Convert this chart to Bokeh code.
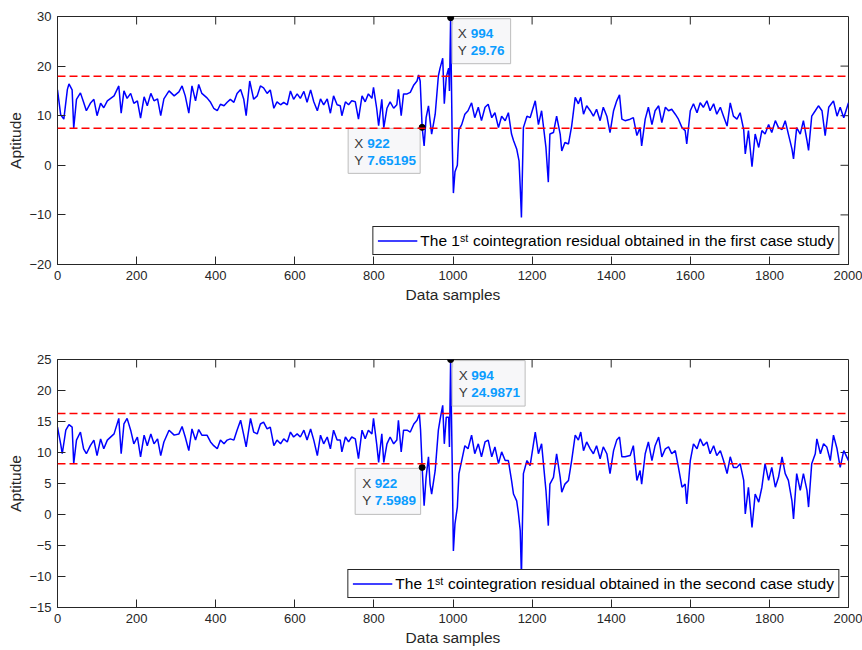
import math
from bokeh.plotting import figure
from bokeh.models import Range1d, Span, Legend, LegendItem
from bokeh.layouts import column
from bokeh.embed import file_html
from bokeh.resources import INLINE
from bokeh.core.properties import value

# ---------------- data ----------------
x1 = [0, 8, 16, 25, 29, 37, 41, 48, 58, 66, 73, 83, 92, 100, 109, 117, 126, 143, 155, 161,
      168, 176, 185, 193, 202, 210, 219, 227, 236, 244, 253, 261, 269, 282, 295, 307, 315, 323,
      332, 340, 349, 357, 365, 378, 387, 395, 404, 412, 421, 429, 437, 446, 454, 463, 471, 477,
      486, 496, 505, 513, 521, 530, 538, 547, 555, 564, 572, 581, 589, 597, 606, 614, 623, 631,
      640, 648, 657, 665, 673, 682, 690, 698, 707, 715, 719, 728, 736, 744, 753, 761, 770, 778,
      786, 795, 799, 807, 812, 820, 825, 833, 841, 850, 858, 862, 869, 875, 884, 892, 901, 909,
      913, 917, 922, 927, 932, 938, 942, 946, 955, 963, 967, 974, 978, 983, 989, 991, 994, 998,
      1001, 1005, 1011, 1015, 1022, 1030, 1038, 1047, 1055, 1064, 1072, 1081, 1089, 1098, 1106,
      1115, 1123, 1132, 1140, 1148, 1153, 1161, 1167, 1170, 1173, 1178, 1187, 1195, 1208, 1216,
      1224, 1235, 1241, 1245, 1254, 1262, 1271, 1275, 1283, 1292, 1300, 1309, 1317, 1323, 1330,
      1338, 1347, 1355, 1363, 1372, 1380, 1389, 1397, 1406, 1414, 1421, 1427, 1435, 1448, 1456,
      1465, 1473, 1477, 1486, 1494, 1503, 1511, 1520, 1528, 1537, 1545, 1553, 1562, 1570, 1579,
      1587, 1591, 1600, 1608, 1617, 1625, 1633, 1642, 1650, 1659, 1667, 1676, 1684, 1693, 1701,
      1709, 1718, 1726, 1735, 1739, 1747, 1756, 1764, 1773, 1781, 1789, 1798, 1806, 1815, 1823,
      1832, 1840, 1848, 1857, 1861, 1869, 1878, 1886, 1895, 1899, 1907, 1916, 1924, 1933, 1941,
      1950, 1962, 1971, 1979, 1988, 2000]
y1 = [15.2, 10.2, 9.3, 15.3, 16.4, 15.2, 7.5, 13.3, 14.6, 12.7, 11.0, 12.5, 13.3, 10.0, 12.5, 11.6,
      13.0, 14.0, 16.0, 10.5, 15.0, 13.5, 14.5, 12.5, 13.0, 9.5, 13.8, 12.0, 14.5, 13.0, 13.4, 10.0,
      13.4, 15.0, 14.0, 14.8, 16.0, 14.0, 10.5, 16.0, 13.0, 16.3, 14.5, 13.6, 12.7, 11.5, 11.0, 12.3,
      12.0, 12.7, 13.3, 12.7, 14.5, 15.3, 13.3, 10.0, 17.0, 13.3, 14.0, 16.0, 15.6, 14.5, 15.2, 11.5,
      12.8, 12.2, 12.7, 12.2, 15.0, 13.3, 14.4, 13.5, 14.9, 12.7, 15.2, 12.8, 11.0, 13.4, 12.2, 13.4,
      10.5, 14.0, 12.2, 12.0, 10.0, 12.8, 12.2, 13.0, 12.8, 9.3, 14.0, 12.8, 14.4, 13.5, 15.7, 11.5,
      8.0, 13.3, 7.6, 11.5, 12.8, 11.5, 12.2, 15.3, 10.0, 14.4, 14.4, 14.7, 16.2, 17.0, 18.2, 17.0,
      7.65195, 3.9, 9.6, 12.0, 9.0, 6.3, 10.3, 18.0, 19.5, 21.6, 12.4, 17.8, 19.6, 15.0, 29.76, 4.8,
      -5.6, -1.3, 0.0, 7.2, 8.2, 10.3, 11.0, 12.6, 9.6, 11.7, 9.0, 11.7, 12.3, 9.6, 10.6, 7.6, 9.9,
      9.0, 10.6, 6.3, 5.0, 3.3, 0.9, -4.4, -10.5, 7.6, 9.9, 9.6, 13.0, 8.2, 11.0, 3.6, -3.4, 6.3,
      6.6, 9.9, 6.3, 2.9, 4.6, 4.3, 7.9, 13.7, 12.4, 13.7, 10.3, 12.0, 11.0, 9.9, 11.3, 9.0, 11.7,
      9.9, 6.6, 11.0, 13.0, 14.2, 9.3, 9.0, 9.3, 9.6, 6.0, 7.6, 3.9, 9.3, 11.7, 8.2, 11.0, 12.0,
      8.6, 11.7, 11.0, 11.3, 10.3, 9.3, 7.6, 7.0, 4.3, 11.0, 12.4, 10.6, 12.6, 11.7, 13.0, 11.0,
      12.4, 10.3, 11.7, 9.9, 7.9, 12.6, 9.9, 9.3, 10.6, 7.2, 2.3, 7.0, -0.3, 6.3, 3.6, 7.0, 6.3,
      8.2, 6.6, 9.0, 7.6, 7.2, 9.0, 6.3, 3.3, 1.3, 7.6, 6.3, 9.0, 5.0, 3.0, 9.9, 11.0, 12.0, 11.0,
      6.0, 11.7, 13.0, 9.9, 11.7, 9.6, 12.6]

x2 = [0, 8, 12, 21, 29, 37, 41, 48, 58, 66, 73, 83, 92, 100, 109, 117, 126, 143, 155, 161,
      168, 176, 185, 193, 202, 210, 219, 227, 236, 244, 253, 261, 269, 282, 295, 307, 315, 323,
      332, 340, 349, 357, 365, 378, 387, 395, 404, 412, 421, 429, 437, 446, 454, 463, 471, 477,
      488, 496, 505, 513, 521, 530, 538, 547, 555, 564, 572, 581, 589, 597, 606, 614, 623, 631,
      640, 648, 657, 665, 673, 682, 690, 698, 707, 715, 719, 728, 736, 744, 753, 761, 770, 778,
      786, 795, 799, 807, 812, 820, 825, 833, 841, 850, 858, 862, 869, 875, 884, 892, 901, 909,
      915, 918, 922, 927, 932, 938, 942, 946, 955, 963, 967, 974, 978, 983, 989, 991, 994, 998,
      1001, 1005, 1011, 1015, 1022, 1030, 1038, 1047, 1055, 1064, 1072, 1081, 1089, 1098, 1106,
      1115, 1123, 1132, 1140, 1148, 1153, 1161, 1165, 1170, 1173, 1178, 1187, 1195, 1208, 1216,
      1224, 1235, 1241, 1245, 1254, 1262, 1271, 1275, 1283, 1292, 1300, 1309, 1317, 1323, 1330,
      1338, 1347, 1355, 1363, 1372, 1380, 1389, 1397, 1406, 1414, 1421, 1427, 1435, 1448, 1456,
      1465, 1473, 1477, 1486, 1494, 1503, 1511, 1520, 1528, 1537, 1545, 1553, 1562, 1570, 1579,
      1587, 1591, 1600, 1608, 1617, 1625, 1633, 1642, 1650, 1659, 1667, 1676, 1684, 1693, 1701,
      1709, 1718, 1726, 1735, 1739, 1747, 1756, 1764, 1773, 1781, 1789, 1798, 1806, 1815, 1823,
      1832, 1840, 1848, 1857, 1861, 1869, 1878, 1886, 1895, 1899, 1907, 1916, 1920, 1929, 1937,
      1945, 1954, 1962, 1971, 1979, 1988, 2000]
y2 = [14.1, 11.4, 9.8, 13.6, 14.5, 14.1, 8.2, 12.0, 13.3, 10.6, 9.8, 11.1, 12.0, 9.5, 12.2, 10.6,
      12.0, 13.0, 15.5, 9.8, 14.6, 15.5, 13.6, 11.4, 12.5, 9.3, 12.8, 11.1, 13.0, 11.4, 12.2, 9.5,
      11.7, 13.6, 12.8, 13.0, 14.2, 12.5, 10.3, 13.8, 12.0, 13.7, 12.8, 12.8, 11.7, 11.1, 10.6, 12.0,
      11.4, 12.0, 12.2, 12.0, 13.6, 15.2, 12.8, 10.9, 15.5, 13.3, 13.0, 14.6, 14.9, 13.8, 14.1, 11.1,
      12.0, 11.4, 12.2, 11.7, 13.3, 12.5, 13.0, 12.5, 13.6, 12.0, 13.8, 12.0, 9.5, 12.8, 11.4, 12.5,
      10.6, 13.6, 12.0, 12.0, 10.1, 12.5, 11.7, 12.5, 12.2, 9.0, 13.6, 12.2, 13.6, 13.0, 15.5, 11.4,
      8.4, 13.0, 8.4, 11.4, 12.5, 11.4, 12.0, 15.2, 10.1, 13.6, 13.6, 13.3, 14.6, 15.2, 16.2, 13.6,
      7.5989, 1.4, 6.0, 9.3, 4.9, 3.3, 7.1, 13.6, 15.2, 17.6, 11.4, 15.7, 15.7, 10.9, 24.9871, 8.2,
      -5.9, -1.5, 1.2, 6.6, 8.7, 11.1, 10.6, 12.8, 9.8, 11.4, 9.3, 11.7, 12.0, 9.3, 10.9, 8.2, 10.1,
      8.7, 8.7, 5.5, 3.3, 2.2, 0.4, -2.6, -10.0, 6.6, 8.7, 7.9, 13.3, 9.8, 11.4, 3.9, -1.8, 4.9,
      6.0, 9.8, 6.0, 3.6, 4.9, 5.5, 8.7, 12.8, 12.0, 13.3, 10.3, 11.7, 10.6, 9.8, 11.1, 9.0, 10.9,
      9.8, 6.6, 10.3, 12.0, 12.5, 9.3, 9.3, 9.5, 11.1, 5.5, 7.1, 4.9, 9.8, 11.7, 8.7, 11.1, 12.5,
      9.3, 10.6, 10.9, 9.8, 10.3, 7.6, 4.4, 4.9, 1.7, 8.7, 11.4, 10.6, 12.2, 11.1, 11.7, 9.8,
      11.1, 9.5, 10.3, 8.7, 6.6, 9.3, 7.6, 7.6, 8.2, 5.5, 0.1, 4.4, -2.1, 3.3, 2.0, 4.4, 8.2,
      5.5, 7.6, 4.4, 6.0, 9.3, 6.6, 5.5, 2.2, -0.7, 6.6, 3.9, 6.6, 3.9, 1.2, 8.2, 9.8, 12.2, 9.8,
      11.4, 10.9, 8.7, 12.8, 10.6, 7.6, 10.3, 8.7]

limits1 = [7.45, 17.96]     # lower / upper threshold, case 1
limits2 = [8.17, 16.3]      # lower / upper threshold, case 2
tips_x = [922, 994]
tips_y1 = [7.65195, 29.76]
tips_y2 = [7.5989, 24.9871]

x_ticks = list(range(0, 2001, 200))
y_ticks1 = list(range(-20, 31, 10))
y_ticks2 = list(range(-15, 26, 5))

label1 = "The 1\u02e2\u1d57 cointegration residual obtained in the first case study"
label2 = "The 1\u02e2\u1d57 cointegration residual obtained in the second case study"

# ---------------- styling ----------------
FONT = "Liberation Sans"
AX = "#262626"
FW, FH = 791, 248
XR = (0, 2000)
TICK = 8


def style_axis(ax):
    ax.major_tick_in = TICK
    ax.major_tick_out = 0
    ax.minor_tick_in = 0
    ax.minor_tick_out = 0
    ax.axis_line_color = AX
    ax.major_tick_line_color = AX
    ax.major_label_text_font = FONT
    ax.major_label_text_color = AX
    ax.major_label_text_font_size = "13px"
    ax.major_label_standoff = 6
    ax.axis_label_text_font = FONT
    ax.axis_label_text_font_style = "normal"
    ax.axis_label_text_font_size = "15.5px"
    ax.axis_label_text_color = AX
    ax.axis_label_standoff = 3


def make(x, y, lims, yr, yticks, tip_y, label, b_top, b_bottom, tip_layout):
    p = figure(frame_width=FW, frame_height=FH, x_range=Range1d(*XR), y_range=Range1d(*yr),
               output_backend="svg", toolbar_location=None,
               min_border_left=57, min_border_right=14,
               min_border_top=b_top, min_border_bottom=b_bottom,
               background_fill_color="white", border_fill_color="white")
    p.xgrid.visible = False
    p.ygrid.visible = False
    p.outline_line_color = AX
    p.outline_line_alpha = 1
    p.outline_line_width = 1

    p.xaxis.ticker = x_ticks
    p.yaxis.ticker = yticks
    p.xaxis.axis_label = "Data samples"
    p.yaxis.axis_label = "Aptitude"
    for ax in p.xaxis + p.yaxis:
        style_axis(ax)
    p.yaxis.axis_label_standoff = 2

    sx = FW / (XR[1] - XR[0])
    sy = FH / (yr[1] - yr[0])

    # inward tick marks on the top and right edges of the box (MATLAB style)
    p.scatter(x=x_ticks[1:-1], y=[yr[1] - TICK / 2 / sy] * (len(x_ticks) - 2), marker="dash",
              angle=math.pi / 2, size=TICK, line_color=AX, line_width=1)
    p.scatter(x=[XR[1] - TICK / 2 / sx] * (len(yticks) - 2), y=yticks[1:-1], marker="dash",
              size=TICK, line_color=AX, line_width=1)

    r = p.line(x, y, line_color="#0000ff", line_width=1.5)
    for v in lims:
        p.add_layout(Span(location=v, dimension="width", line_color="#ff0000",
                          line_dash="8 4", line_width=1.5))

    # data tips
    for xp, yp, lay in zip(tips_x, tip_y, tip_layout):
        l, rr, t, b, dx_letter, dx_val = lay
        p.quad(left=[xp + l / sx], right=[xp + rr / sx], top=[yp - t / sy], bottom=[yp - b / sy],
               fill_color="#f7f7f9", fill_alpha=0.95, line_color="#bcbcbc", line_width=1)
        for row, (letter, val) in enumerate([("X", f"{xp:g}"), ("Y", f"{yp:g}")]):
            dy = 16 + row * 16.8
            p.text(x=[xp], y=[yp], text=[letter], x_offset=dx_letter, y_offset=dy,
                   text_baseline="middle", text_align="left", text_font=value(FONT),
                   text_font_size="13.5px", text_color="#3a3a3a")
            p.text(x=[xp], y=[yp], text=[val], x_offset=dx_val, y_offset=dy,
                   text_baseline="middle", text_align="left", text_font=value(FONT),
                   text_font_size="13.5px", text_font_style="bold", text_color="#0a9cff")
    p.scatter(tips_x, tip_y, size=6, color="black")

    legend = Legend(items=[LegendItem(label=label, renderers=[r])], location="bottom_right",
                    margin=9, padding=4, spacing=0, label_text_font=FONT,
                    label_text_font_size="15.5px", label_text_color="black",
                    glyph_width=40, glyph_height=19, label_height=19, label_standoff=3,
                    border_line_color=AX, border_line_width=1, border_line_alpha=1,
                    background_fill_color="white", background_fill_alpha=1)
    p.add_layout(legend)
    return p


lay1 = [(-74, -2, 1, 46, -68, -55), (1.5, 60, 1, 46, 7, 20)]
lay2 = [(-67, -1.5, 1, 47, -60, -47.5), (1.5, 74.5, 1, 46.5, 8, 20.5)]

p1 = make(x1, y1, limits1, (-20, 30), y_ticks1, tips_y1, label1, 16, 61, lay1)
p2 = make(x2, y2, limits2, (-15, 25), y_ticks2, tips_y2, label2, 34, 43, lay2)

layout = column(p1, p2, spacing=0)
open("out.html", "w").write(file_html(layout, INLINE))
